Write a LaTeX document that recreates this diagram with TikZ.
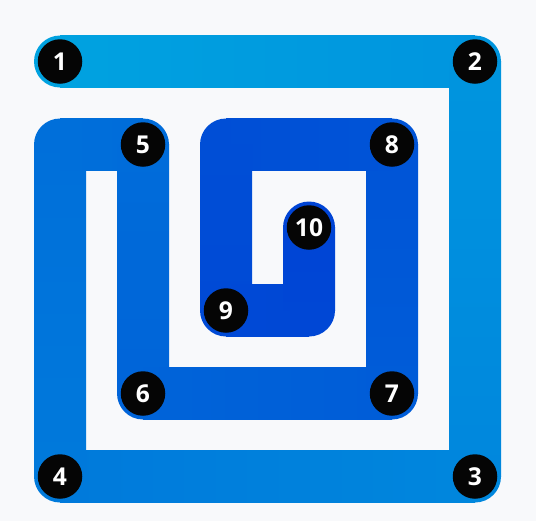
\documentclass[tikz,border=0pt]{standalone}
\usepackage{fontspec}
\setsansfont{Open Sans}
\usetikzlibrary{positioning, calc}
\definecolor{paperbg}{HTML}{F8F9FB}
\definecolor{bandstart}{HTML}{00A2E0}
\definecolor{bandend}{HTML}{0044D5}
\definecolor{dotblack}{HTML}{050505}
\tikzset{
  stepdot/.style={circle, fill=dotblack, text=white, minimum size=0.89cm, inner sep=0pt,
    font=\sffamily\bfseries\fontsize{14}{14}\selectfont}
}

\begin{document}
\begin{tikzpicture}[x=1.66cm, y=-1.66cm]
  \fill[paperbg] (-0.723,-0.741) rectangle (5.735,5.536);
  \coordinate (p1) at (0,0);
  \coordinate (p2) at (5,0);
  \coordinate (p3) at (5,5);
  \coordinate (p4) at (0,5);
  \coordinate (ta) at (0,1);
  \coordinate (p5) at (1,1);
  \coordinate (p6) at (1,4);
  \coordinate (p7) at (4,4);
  \coordinate (p8) at (4,1);
  \coordinate (tb) at (2,1);
  \coordinate (p9) at (2,3);
  \coordinate (tc) at (3,3);
  \coordinate (p10) at (3,2);
  \foreach \c/\t in {p1/0, p2/14, p3/29, p4/43, ta/54, p5/57, p6/66, p7/74, p8/83,
      tb/89, p9/94, tc/97, p10/100}
    \fill[bandend!\t!bandstart] (\c) circle[radius=0.52cm];
  \foreach \a/\b/\ta/\tb/\ang/\px/\py in {p1/p2/0/14/90/0/0.52, p2/p3/14/29/0/0.52/0,
      p3/p4/29/43/-90/0/0.52, p4/ta/43/54/180/0.52/0, ta/p5/54/57/90/0/0.52,
      p5/p6/57/66/0/0.52/0, p6/p7/66/74/90/0/0.52, p7/p8/74/83/180/0.52/0,
      p8/tb/83/89/-90/0/0.52, tb/p9/89/94/0/0.52/0, p9/tc/94/97/90/0/0.52,
      tc/p10/97/100/180/0.52/0}
    \shade[top color=bandend!\ta!bandstart, bottom color=bandend!\tb!bandstart, shading angle=\ang]
      ($(\a)+(\px cm,\py cm)$) rectangle ($(\b)-(\px cm,\py cm)$);
  \foreach \i in {1,...,10}
    \node[stepdot] (n\i) at (p\i) {\i};
\end{tikzpicture}
\end{document}
